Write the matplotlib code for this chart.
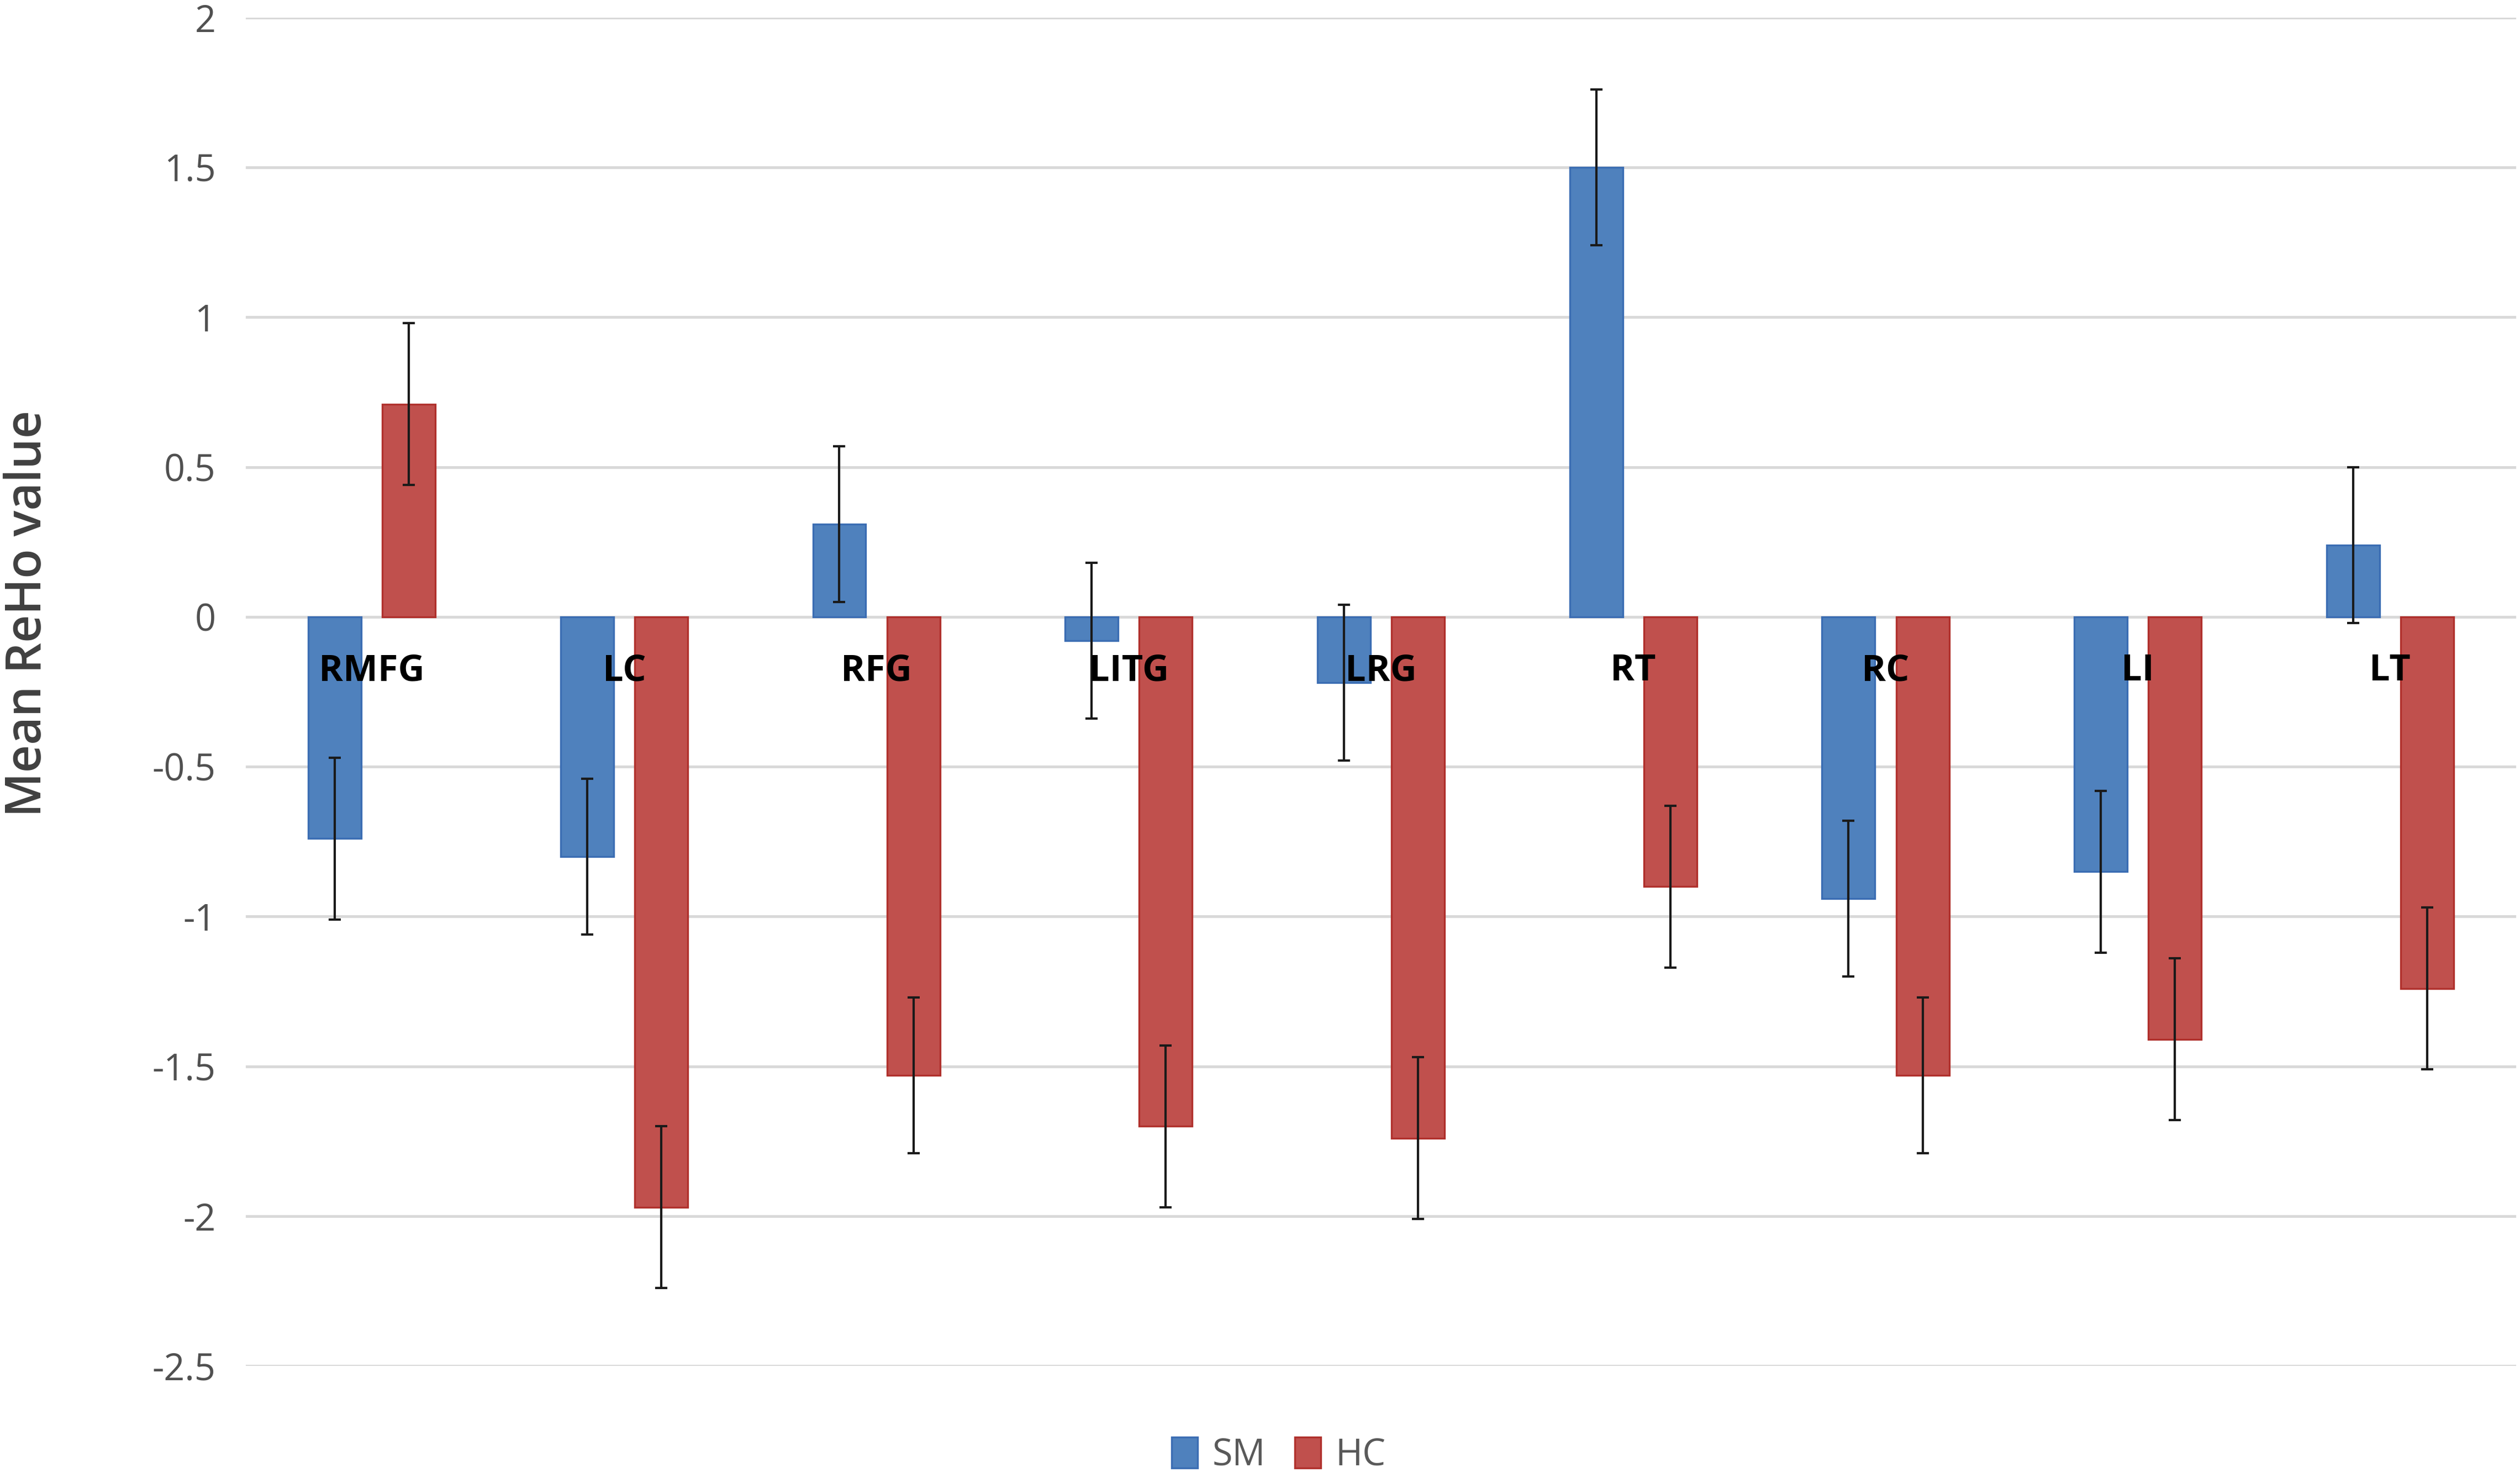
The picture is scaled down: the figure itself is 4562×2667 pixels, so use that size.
import numpy as np
import matplotlib.pyplot as plt

regions = ["RMFG", "LC", "RFG", "LITG", "LRG", "RT", "RC", "LI", "LT"]
sm_mean = [-0.74, -0.80, 0.31, -0.08, -0.22, 1.50, -0.94, -0.85, 0.24]
sm_err = [0.27, 0.26, 0.26, 0.26, 0.26, 0.26, 0.26, 0.27, 0.26]
hc_mean = [0.71, -1.97, -1.53, -1.70, -1.74, -0.90, -1.53, -1.41, -1.24]
hc_err = [0.27, 0.27, 0.26, 0.27, 0.27, 0.27, 0.26, 0.27, 0.27]
yticks = [2, 1.5, 1, 0.5, 0, -0.5, -1, -1.5, -2, -2.5]

plt.rcParams['font.family'] = ['Open Sans', 'DejaVu Sans']

fig = plt.figure(figsize=(15.207, 8.89), dpi=300)
ax = fig.add_axes([0.0975, 0.0727, 0.901, 0.9153])

x = np.arange(len(regions))
w = 0.21
off = 0.147
err_kw = dict(ecolor='#1a1a1a', elinewidth=1.0, capsize=2.6, capthick=1.0)
ax.bar(x - off, sm_mean, w, yerr=sm_err, color='#4F81BD', edgecolor='#3B6DB3',
       linewidth=0.8, label='SM', error_kw=err_kw, zorder=2)
ax.bar(x + off, hc_mean, w, yerr=hc_err, color='#C0504D', edgecolor='#B0302C',
       linewidth=0.8, label='HC', error_kw=err_kw, zorder=2)

for xi, name in zip(x, regions):
    ax.text(xi, -0.18, name, ha='center', va='center', fontsize=16,
            fontweight='bold', color='black', zorder=4)

ax.set_xlim(-0.5, len(regions) - 0.5)
ax.set_ylim(-2.5, 2)
ax.set_yticks(yticks)
ax.set_yticklabels([f"{v:g}" for v in yticks])
ax.set_xticks([])
ax.tick_params(axis='y', length=0, pad=13, labelsize=16, labelcolor='#505050')
ax.grid(axis='y', color='#D9D9D9', linewidth=1.2, zorder=0)
ax.set_axisbelow(True)
for s in ax.spines.values():
    s.set_visible(False)

ax.set_ylabel('Mean ReHo value', fontsize=21, fontweight='semibold',
              color='#404040')
ax.yaxis.set_label_coords(-0.085, 0.558)

leg = ax.legend(loc='upper center', bbox_to_anchor=(0.455, -0.028), ncol=2,
                frameon=False, fontsize=16, handlelength=0.7, handleheight=0.9,
                handletextpad=0.4, columnspacing=0.8)
for t in leg.get_texts():
    t.set_color('#595959')

fig.savefig('out.png', dpi=300)
